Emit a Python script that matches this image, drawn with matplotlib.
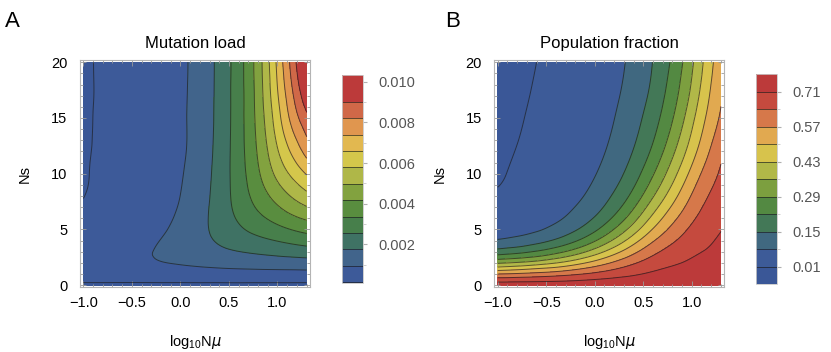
import numpy as np
import matplotlib
matplotlib.use('Agg')
import matplotlib.pyplot as plt
import matplotlib.tri as mtri
from matplotlib.colors import LinearSegmentedColormap, Normalize

plt.rcParams['font.family'] = ['Liberation Sans', 'DejaVu Sans']

# ---------------- data ----------------
log10_Nmu = [-1.0, -0.8, -0.6, -0.4, -0.2, 0.0, 0.2, 0.4, 0.6, 0.8, 1.0, 1.15, 1.301]
Ns_values = [0, 0.5, 1, 1.5, 2, 3, 4, 5, 6.5, 8, 10, 12.5, 15, 17.5, 20]

# population fraction, in units of 0.001 (rows: Ns, columns: log10 N mu)
fraction_permil = [
    [750, 750, 750, 750, 750, 750, 750, 750, 750, 750, 750, 750, 750],
    [671, 675, 681, 688, 698, 710, 721, 730, 739, 745, 745, 745, 746],
    [568, 578, 591, 608, 630, 654, 679, 701, 720, 732, 736, 740, 742],
    [457, 473, 495, 517, 552, 591, 631, 668, 698, 717, 727, 732, 738],
    [349, 366, 391, 426, 471, 524, 580, 631, 674, 701, 718, 726, 734],
    [179, 198, 226, 266, 321, 392, 472, 552, 621, 668, 700, 713, 726],
    [86, 101, 125, 160, 212, 283, 372, 471, 563, 629, 677, 700, 718],
    [43, 55, 72, 100, 143, 206, 292, 396, 504, 589, 653, 685, 708],
    [19, 27, 40, 59, 91, 138, 209, 307, 424, 529, 614, 661, 693],
    [12, 17, 27, 42, 66, 103, 160, 243, 354, 470, 575, 634, 676],
    [8.0, 12.8, 20.0, 31.6, 49.5, 77, 121, 188, 284, 400, 521, 595, 650],
    [6.4, 10.1, 16.0, 25.3, 39.5, 60, 94, 147, 225, 332, 457, 545, 618],
    [5.3, 8.4, 13.3, 21.0, 33.0, 50, 79, 124, 190, 285, 410, 505, 580],
    [4.6, 7.2, 11.4, 18.0, 28.5, 44, 68, 107, 165, 254, 372, 475, 560],
    [4.0, 6.3, 10.0, 15.8, 25.0, 39, 62, 97, 152, 232, 348, 453, 545],
]

# mutation load, in units of 1e-5 (rows: Ns, columns: log10 N mu)
load_1e5 = [
    [0, 0, 0, 0, 0, 0, 0, 0, 0, 0, 0, 0, 0],
    [32, 32, 32, 32, 33, 33, 34, 34, 35, 35, 35, 35, 35],
    [54, 55, 57, 58, 60, 62, 64, 66, 67, 69, 70, 70, 71],
    [68, 70, 72, 75, 79, 84, 89, 94, 98, 101, 103, 104, 106],
    [73, 76, 80, 85, 93, 101, 110, 119, 126, 132, 137, 139, 142],
    [65, 70, 78, 88, 102, 120, 139, 159, 175, 188, 200, 210, 220],
    [48, 54, 64, 77, 97, 122, 153, 185, 215, 238, 260, 277, 292],
    [34, 41, 51, 65, 86, 117, 156, 200, 244, 281, 315, 340, 363],
    [21, 27, 37, 50, 72, 105, 151, 210, 274, 333, 388, 428, 462],
    [14.5, 21.5, 30, 43, 63, 96, 144, 210, 290, 371, 450, 505, 555],
    [13.6, 19.2, 27, 38, 57, 89, 137, 207, 299, 406, 520, 595, 665],
    [12.9, 18.3, 26, 36, 54, 82, 131, 202, 303, 430, 582, 690, 790],
    [12.5, 17.9, 25, 35, 52, 82, 129, 199, 303, 444, 626, 765, 880],
    [12.3, 17.7, 25, 34, 51, 81, 127, 198, 303, 452, 657, 815, 975],
    [12.2, 17.6, 24, 34, 51, 80, 126, 197, 303, 457, 677, 850, 1050],
]

load_levels = [0.00015, 0.000955, 0.00176, 0.002565, 0.00337, 0.004175, 0.00498,
               0.005785, 0.00659, 0.007395, 0.0082, 0.009005]
fraction_levels = [0.01, 0.08, 0.15, 0.22, 0.29, 0.36, 0.43, 0.50, 0.57, 0.64, 0.71]
load_ticks = [0.002, 0.004, 0.006, 0.008, 0.010]
fraction_ticks = [0.01, 0.15, 0.29, 0.43, 0.57, 0.71]

# ---------------- fields ----------------
xn = np.array(log10_Nmu)
yn = np.array(Ns_values, dtype=float)
FB = np.array(fraction_permil, dtype=float) / 1000.0
LA = np.array(load_1e5, dtype=float) * 1e-5

nx, ny = len(xn), len(yn)
XG, YG = np.meshgrid(xn, yn)
U = (XG - xn[0]) / (xn[-1] - xn[0])
V = YG / yn[-1]
tris = []
for i in range(ny - 1):
    for j in range(nx - 1):
        p = i * nx + j
        tris.append([p, p + 1, p + nx + 1])
        tris.append([p, p + nx + 1, p + nx])
tri_n = mtri.Triangulation(U.ravel(), V.ravel(), np.array(tris))
refiner = mtri.UniformTriRefiner(tri_n)
tri_r, zB = refiner.refine_field(FB.ravel(), subdiv=4)
_, zA = refiner.refine_field(LA.ravel(), subdiv=4)
tri_plot = mtri.Triangulation(tri_r.x * (xn[-1] - xn[0]) + xn[0], tri_r.y * yn[-1], tri_r.triangles)
zB = np.clip(zB, 0, FB.max())
zA = np.clip(zA, 0, LA.max())

anchors = [(0.0, '#3a5797'), (0.054, '#3d5a99'), (0.13, '#41648b'), (0.21, '#3f7263'),
           (0.29, '#47804a'), (0.37, '#5a8e3e'), (0.446, '#84a33f'), (0.524, '#b0b848'),
           (0.60, '#d4c74b'), (0.68, '#e2b850'), (0.757, '#e0964f'), (0.835, '#d06848'),
           (0.88, '#c8503f'), (0.94, '#c0403c'), (1.0, '#bc3a3a')]
cmap = LinearSegmentedColormap.from_list('darkrainbow', anchors)

# ---------------- figure ----------------
fig = plt.figure(figsize=(8.31, 3.52), dpi=100)
W, H = 831, 352

def ax_rect(l, r, t, b):
    return [l / W, 1 - b / H, (r - l) / W, (b - t) / H]

axA = fig.add_axes(ax_rect(80, 310, 60, 287.3))
axB = fig.add_axes(ax_rect(494.4, 724.3, 60, 287.3))
caxA = fig.add_axes(ax_rect(341.7, 362.7, 75, 282.7))
caxB = fig.add_axes(ax_rect(756, 777, 74, 284))

def style(ax):
    ax.set_xlim(xn[0] - 0.034, xn[-1] + 0.034)
    ax.set_ylim(-0.2, 20.2)
    for s in ax.spines.values():
        s.set_color('#b4b4b4')
        s.set_linewidth(0.8)
    ax.set_xticks([-1.0, -0.5, 0.0, 0.5, 1.0])
    ax.set_xticks(np.arange(-1.0, 1.31, 0.1), minor=True)
    ax.set_yticks([0, 5, 10, 15, 20])
    ax.set_yticks(np.arange(0, 21, 1), minor=True)
    ax.set_xticklabels(['\u22121.0', '\u22120.5', '0.0', '0.5', '1.0'])
    ax.tick_params(which='both', direction='in', top=True, right=True, color='#9a9a9a', width=0.6)
    ax.tick_params(which='major', length=4, labelsize=10.5, pad=6)
    ax.tick_params(which='minor', length=2)
    ax.tick_params(axis='y', which='major', pad=9)
    ax.set_xlabel(r'$\mathregular{log_{10}N}\mathit{\mu}$', fontsize=10.5)
    ax.xaxis.set_label_coords(0.5, (287.3 - 333) / 227.3)
    ax.set_ylabel('Ns', fontsize=10.5)
    ax.yaxis.set_label_coords((32 - 80) / 230, 0.5)

normA = Normalize(0, 0.0103)
normB = Normalize(0, 0.75)
csA = axA.tricontourf(tri_plot, zA, levels=[-1.0] + load_levels + [1.0], cmap=cmap, norm=normA)
clA = axA.tricontour(tri_plot, zA, levels=load_levels, colors='#1a1a1a', linewidths=0.7, alpha=0.65)
csB = axB.tricontourf(tri_plot, zB, levels=[-1.0] + fraction_levels + [2.0], cmap=cmap, norm=normB)
clB = axB.tricontour(tri_plot, zB, levels=fraction_levels, colors='#1a1a1a', linewidths=0.7, alpha=0.65)
style(axA)
style(axB)

axA.text(0.5, (287.3 - 48) / 227.3, 'Mutation load', transform=axA.transAxes,
         ha='center', va='baseline', fontsize=12)
axB.text(0.5, (287.3 - 48) / 227.3, 'Population fraction', transform=axB.transAxes,
         ha='center', va='baseline', fontsize=12)
fig.text(5 / W, 1 - 27 / H, 'A', fontsize=16, va='baseline')
fig.text(445 / W, 1 - 27 / H, 'B', fontsize=16, va='baseline')

cbA = fig.colorbar(csA, cax=caxA, spacing='proportional')
cbA.add_lines(clA)
caxA.set_ylim(0.000115, 0.01033)
cbA.set_ticks(load_ticks)
cbA.set_ticklabels(['%.3f' % t for t in load_ticks])
caxA.yaxis.set_ticks(np.arange(0.001, 0.0104, 0.001), minor=True)
cbB = fig.colorbar(csB, cax=caxB, spacing='proportional')
cbB.add_lines(clB)
caxB.set_ylim(-0.06, 0.78)
cbB.set_ticks(fraction_ticks)
cbB.set_ticklabels(['%.2f' % t for t in fraction_ticks])
caxB.yaxis.set_ticks([0.08, 0.22, 0.36, 0.50, 0.64], minor=True)
for cax, cb in ((caxA, cbA), (caxB, cbB)):
    cb.outline.set_edgecolor('#c8c8c8')
    cb.outline.set_linewidth(0.6)
    cax.tick_params(which='major', length=3, color='#b0b0b0', labelcolor='#555555', labelsize=10.5, pad=8)
    cax.tick_params(which='minor', length=2, color='#c8c8c8')

fig.savefig('out.png', dpi=100)
